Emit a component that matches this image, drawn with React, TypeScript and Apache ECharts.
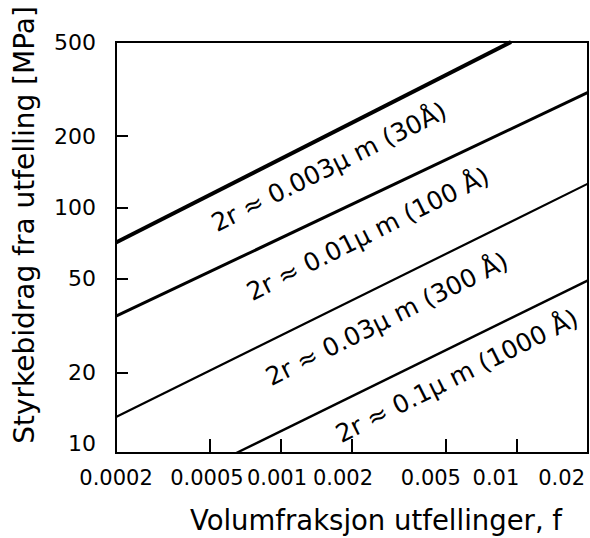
import React, { useEffect, useRef } from "react";
import * as echarts from "echarts";

// X axis (volume fraction f), log scale
const xMin = 0.0002;
const xMax = 0.02;
const xTickValues = [0.0002, 0.0005, 0.001, 0.002, 0.005, 0.01, 0.02];
const xTickLabels = ["0.0002", "0.0005", "0.001", "0.002", "0.005", "0.01", "0.02"];

// Y axis (strength contribution, MPa), log scale
const yMin = 9.16;
const yMax = 500;
const yTickValues = [10, 20, 50, 100, 200, 500];
const yTickLabels = ["10", "20", "50", "100", "200", "500"];

// Lines: [f, MPa] end points
const line003 = [[0.0002, 71], [0.00944, 500]];
const line001 = [[0.0002, 34.7], [0.02, 306]];
const line003b = [[0.0002, 13.0], [0.02, 126]];
const line01 = [[0.000647, 9.16], [0.02, 49.2]];

const lineLabels = [
  "2r ≈ 0.003μ m (30Å)",
  "2r ≈ 0.01μ m (100 Å)",
  "2r ≈ 0.03μ m (300 Å)",
  "2r ≈ 0.1μ m (1000 Å)",
];

const xTitle = "Volumfraksjon utfellinger, f";
const yTitle = "Styrkebidrag fra utfelling [MPa]";

const FONT = '"DejaVu Sans", "Liberation Sans", Arial, sans-serif';

// per-label leftward shift (px) of the x tick labels, as in the picture
const xLabelShift = [0, 3, 4, 9, 15, 21, 3];

function nearestIndex(v: number, vals: number[]) {
  let best = 0;
  let bd = Infinity;
  vals.forEach((t, i) => {
    const d = Math.abs(Math.log(v) - Math.log(t));
    if (d < bd) {
      bd = d;
      best = i;
    }
  });
  return best;
}

export default function App() {
  const ref = useRef<HTMLDivElement>(null);
  useEffect(() => {
    if (!ref.current) return;
    const chart = echarts.init(ref.current, undefined, { renderer: "svg" });
    const mkLine = (data: number[][], width: number) => ({
      type: "line",
      data,
      showSymbol: false,
      symbol: "none",
      clip: true,
      lineStyle: { color: "#000", width },
      silent: true,
    });
    const rot = (26.5 * Math.PI) / 180;
    const labelPos = [
      [329, 167],
      [368, 234],
      [387, 319],
      [457, 376],
    ];
    const rich: Record<string, any> = {};
    xLabelShift.forEach((s, i) => {
      const last = i === xLabelShift.length - 1;
      rich["p" + i] = {
        fontFamily: FONT,
        fontSize: 21,
        color: "#000",
        padding: [0, last ? s : s * 2, 0, 0],
      };
    });
    chart.setOption({
      animation: false,
      backgroundColor: "#fff",
      grid: {
        left: 116,
        top: 42,
        right: 2,
        bottom: 85,
        show: true,
        borderColor: "#000",
        borderWidth: 2,
        backgroundColor: "#fff",
      },
      xAxis: {
        type: "log",
        logBase: 10,
        min: xMin,
        max: xMax,
        axisLine: { show: true, lineStyle: { color: "#000", width: 2 } },
        axisTick: {
          show: true,
          inside: true,
          length: 14,
          customValues: xTickValues.slice(1, -1),
          lineStyle: { color: "#000", width: 2 },
        },
        axisLabel: {
          customValues: xTickValues,
          formatter: (v: number) => {
            const i = nearestIndex(v, xTickValues);
            return `{p${i}|${xTickLabels[i]}}`;
          },
          rich,
          color: "#000",
          fontFamily: FONT,
          fontSize: 21,
          margin: 14,
          alignMaxLabel: "right",
        },
        splitLine: { show: false },
        minorTick: { show: false },
        minorSplitLine: { show: false },
      },
      yAxis: {
        type: "log",
        logBase: 10,
        min: yMin,
        max: yMax,
        axisLine: { show: true, lineStyle: { color: "#000", width: 2 } },
        axisTick: {
          show: true,
          inside: true,
          length: 12,
          customValues: yTickValues.slice(1, -1),
          lineStyle: { color: "#000", width: 2 },
        },
        axisLabel: {
          customValues: yTickValues,
          formatter: (v: number) => yTickLabels[nearestIndex(v, yTickValues)],
          color: "#000",
          fontFamily: FONT,
          fontSize: 22,
          margin: 20,
        },
        splitLine: { show: false },
        minorTick: { show: false },
        minorSplitLine: { show: false },
      },
      series: [
        mkLine(line003, 4),
        mkLine(line001, 3),
        mkLine(line003b, 2.2),
        mkLine(line01, 2.5),
      ],
      graphic: [
        ...lineLabels.map((t, i) => ({
          type: "text",
          x: labelPos[i][0],
          y: labelPos[i][1],
          rotation: rot,
          silent: true,
          style: {
            text: t,
            font: `25px ${FONT}`,
            fill: "#000",
            align: "center",
            verticalAlign: "middle",
            textAlign: "center",
            textVerticalAlign: "middle",
          },
        })),
        {
          type: "text",
          x: 376,
          y: 520,
          silent: true,
          style: {
            text: xTitle,
            font: `27.5px ${FONT}`,
            fill: "#000",
            align: "center",
            verticalAlign: "middle",
            textAlign: "center",
            textVerticalAlign: "middle",
          },
        },
        {
          type: "text",
          x: 24,
          y: 225,
          rotation: Math.PI / 2,
          silent: true,
          style: {
            text: yTitle,
            font: `28px ${FONT}`,
            fill: "#000",
            align: "center",
            verticalAlign: "middle",
            textAlign: "center",
            textVerticalAlign: "middle",
          },
        },
      ],
    });
    return () => chart.dispose();
  }, []);
  return (
    <div
      ref={ref}
      style={{ position: "fixed", left: 0, top: 0, width: 590, height: 538 }}
    />
  );
}
